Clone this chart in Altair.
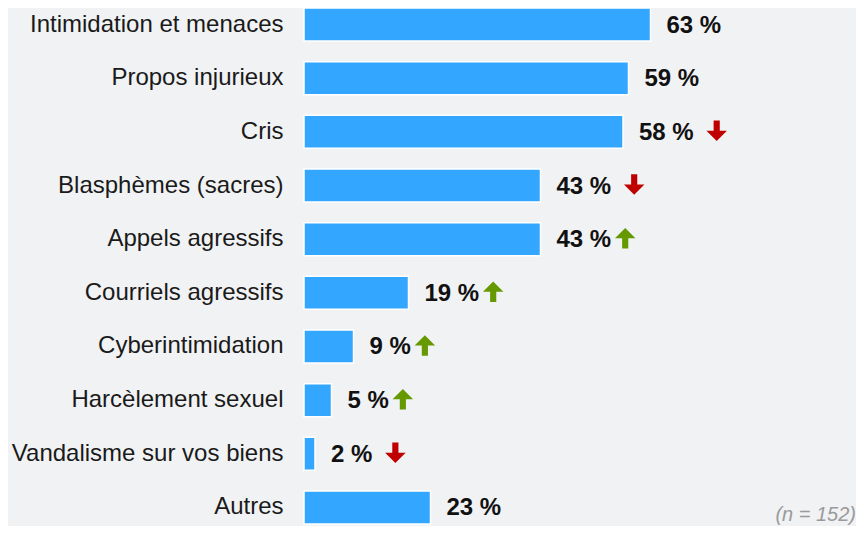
import altair as alt
import pandas as pd

categories = [
    "Intimidation et menaces",
    "Propos injurieux",
    "Cris",
    "Blasphèmes (sacres)",
    "Appels agressifs",
    "Courriels agressifs",
    "Cyberintimidation",
    "Harcèlement sexuel",
    "Vandalisme sur vos biens",
    "Autres",
]
values = [63, 59, 58, 43, 43, 19, 9, 5, 2, 23]
trends = ["", "", "down", "down", "up", "up", "up", "up", "down", ""]
sample_note = "(n = 152)"

FONT = "Liberation Sans"
W, H = 550, 516

df = pd.DataFrame({"cat": categories, "val": values, "trend": trends})
df["label"] = df["val"].astype(str) + " %"

y_enc = alt.Y(
    "cat:N",
    sort=categories,
    scale=alt.Scale(paddingInner=0.385, paddingOuter=0),
    axis=alt.Axis(
        title=None, domain=False, ticks=False, labelFontSize=24, labelFont=FONT,
        labelColor="#1a1a1a", labelPadding=21, labelLimit=0, grid=False,
    ),
)
x_enc = alt.X("val:Q", scale=alt.Scale(domain=[0, 100]), axis=None)

base = alt.Chart(df)
bars = base.mark_bar(color="#33a6ff", stroke="white", strokeWidth=1.5).encode(x=x_enc, y=y_enc)
labels = base.mark_text(
    align="left", baseline="middle", dx=16, dy=1, fontSize=24, fontWeight="bold", font=FONT, color="#111111"
).encode(x=x_enc, y=y_enc, text="label:N")

UP = "M0,-1 L1,0 L0.3,0 L0.3,1 L-0.3,1 L-0.3,0 L-1,0 Z"
DOWN = "M0,1 L1,0 L0.3,0 L0.3,-1 L-0.3,-1 L-0.3,0 L-1,0 Z"

layers = [bars, labels]
for i, row in df.iterrows():
    if not row["trend"]:
        continue
    w = (0.556 * len(str(row["val"])) + 0.278 + 0.889) * 24
    down = row["trend"] == "down"
    off = 16 + w + (23 if down else 14)
    arrow = alt.Chart(df.iloc[[i]]).mark_point(
        shape=DOWN if down else UP, size=420, filled=True, opacity=1, strokeWidth=0,
        color="#c00000" if down else "#669900", xOffset=off, yOffset=-1,
    ).encode(x=x_enc, y=y_enc)
    layers.append(arrow)

note = alt.Chart(pd.DataFrame({"note": [sample_note]})).mark_text(
    align="right", baseline="alphabetic", fontStyle="italic", fontSize=20, font=FONT, color="#9a9a9a"
).encode(text="note:N", x=alt.value(552), y=alt.value(513))
layers.append(note)

chart = alt.layer(*layers).properties(
    width=W, height=H,
    padding={"left": 296, "top": 0, "right": 2, "bottom": 2},
    autosize=alt.AutoSizeParams(type="none"),
    background="#f1f2f4",
).configure_view(stroke=None)

chart.save("out.html", embed_options={"renderer": "svg", "actions": False})
